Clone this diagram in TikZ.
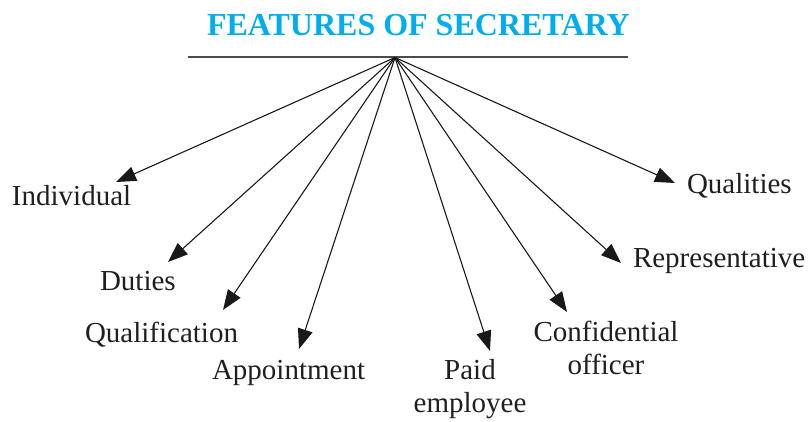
\documentclass[tikz,border=0pt]{standalone}
\usepackage{fontspec}
\setmainfont{Liberation Serif}
\usetikzlibrary{arrows.meta}
\definecolor{titlecyan}{RGB}{0,174,239}
\tikzset{
  lbl/.style={inner sep=0pt, outer sep=0pt, font=\fontsize{29}{33}\selectfont, text=black!88},
  ttl/.style={inner sep=0pt, outer sep=0pt, font=\fontsize{32}{36}\selectfont\bfseries, text=titlecyan},
  feat/.style={draw=black!90, line width=1.1pt, -{Triangle[length=20pt,width=15pt]}},
  rule/.style={draw=black!70, line width=1.3pt}
}
\begin{document}
\begin{tikzpicture}[x=1pt,y=-1pt]
\useasboundingbox (0,0) rectangle (812,421);
\node[ttl, anchor=base west] (title) at (207,35) {FEATURES OF SECRETARY};
\coordinate (lineL) at (188,57);
\coordinate (lineR) at (628,57);
\coordinate (hub) at (395,57.5);
\draw[rule] (lineL) -- (lineR);
% labels
\node[lbl, anchor=base west] (ind) at (12,205) {Individual};
\node[lbl, anchor=base west] (dut) at (100,290) {Duties};
\node[lbl, anchor=base west] (qual) at (85,342) {Qualification};
\node[lbl, anchor=base west] (app) at (212,379) {Appointment};
\node[lbl, align=center] (paid) at (470,389) {Paid\\employee};
\node[lbl, align=center] (conf) at (606,348) {Confidential\\officer};
\node[lbl, anchor=base west] (rep) at (633,267) {Representative};
\node[lbl, anchor=base west] (qlt) at (687,193) {Qualities};
% arrow tips
\coordinate (tI) at (116,182);
\coordinate (tD) at (168,262);
\coordinate (tQ) at (223,310);
\coordinate (tA) at (299,349);
\coordinate (tP) at (490,351);
\coordinate (tC) at (567,312);
\coordinate (tR) at (621,263);
\coordinate (tL) at (675,183);
\foreach \t in {tI,tD,tQ,tA,tP,tC,tR,tL}{
  \draw[feat] (hub) -- (\t);
}
\end{tikzpicture}
\end{document}
